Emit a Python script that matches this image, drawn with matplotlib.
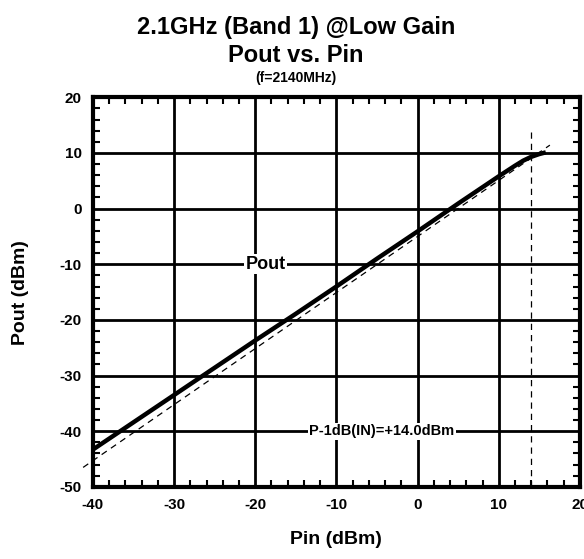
import matplotlib
matplotlib.use("Agg")
import matplotlib.pyplot as plt
from matplotlib.ticker import MultipleLocator

plt.rcParams['font.family'] = ['Liberation Sans', 'DejaVu Sans']
plt.rcParams['font.weight'] = 'bold'
plt.rcParams['axes.unicode_minus'] = False

# measured Pout vs Pin (dBm)
pin = [-40, -35, -30, -25, -20, -15, -10, -5, 0, 5, 10, 12, 13, 14, 15, 15.8]
pout = [-43.3, -38.4, -33.5, -28.6, -23.7, -18.9, -14.0, -9.0, -4.1, 0.9, 5.8, 7.7, 8.6, 9.3, 9.8, 10.1]

# 1 dB compression reference line
ref_pin = [-41.2, 16.3]
ref_pout = [-46.5, 11.4]

p1db_in = 14.0
p1db_top = 14.0

fig = plt.figure(figsize=(5.84, 5.59), dpi=100)
ax = fig.add_axes([0.159, 0.129, 0.834, 0.697])

ax.set_xlim(-40, 20)
ax.set_ylim(-50, 20)
ax.xaxis.set_major_locator(MultipleLocator(10))
ax.yaxis.set_major_locator(MultipleLocator(10))
ax.xaxis.set_minor_locator(MultipleLocator(2))
ax.yaxis.set_minor_locator(MultipleLocator(2))
ax.grid(True, which='major', color='black', linewidth=2)
ax.tick_params(which='both', direction='in', top=True, right=True, width=1.5)
ax.tick_params(which='major', length=0, labelsize=11, pad=8)
ax.tick_params(which='minor', length=5)
for s in ax.spines.values():
    s.set_linewidth(3)

ax.plot(ref_pin, ref_pout, color='black', linestyle=(0, (5, 4)), linewidth=0.9, clip_on=False, zorder=3)
ax.plot([p1db_in, p1db_in], [-50, p1db_top], color='black', linestyle=(0, (5, 4)), linewidth=0.9, zorder=3)
ax.plot(pin, pout, color='black', linewidth=3.2, solid_capstyle='butt', zorder=4)

ax.text(-18.7, -10, "Pout", fontsize=13, fontweight='bold', ha='center', va='center',
        bbox=dict(facecolor='white', edgecolor='none', pad=1), zorder=5)
ax.text(-4.4, -40, "P-1dB(IN)=+%.1fdBm" % p1db_in, fontsize=10.5, fontweight='bold',
        ha='center', va='center', bbox=dict(facecolor='white', edgecolor='none', pad=1), zorder=5)

ax.set_xlabel("Pin (dBm)", fontsize=14, fontweight='bold', labelpad=14)
ax.set_ylabel("Pout (dBm)", fontsize=14, fontweight='bold', labelpad=22)

fig.text(0.507, 0.950, "2.1GHz (Band 1) @Low Gain", fontsize=17, fontweight='bold', ha='center', va='center')
fig.text(0.507, 0.900, "Pout vs. Pin", fontsize=17, fontweight='bold', ha='center', va='center')
fig.text(0.507, 0.861, "(f=2140MHz)", fontsize=10, fontweight='bold', ha='center', va='center')

fig.savefig("out.png", dpi=100)
